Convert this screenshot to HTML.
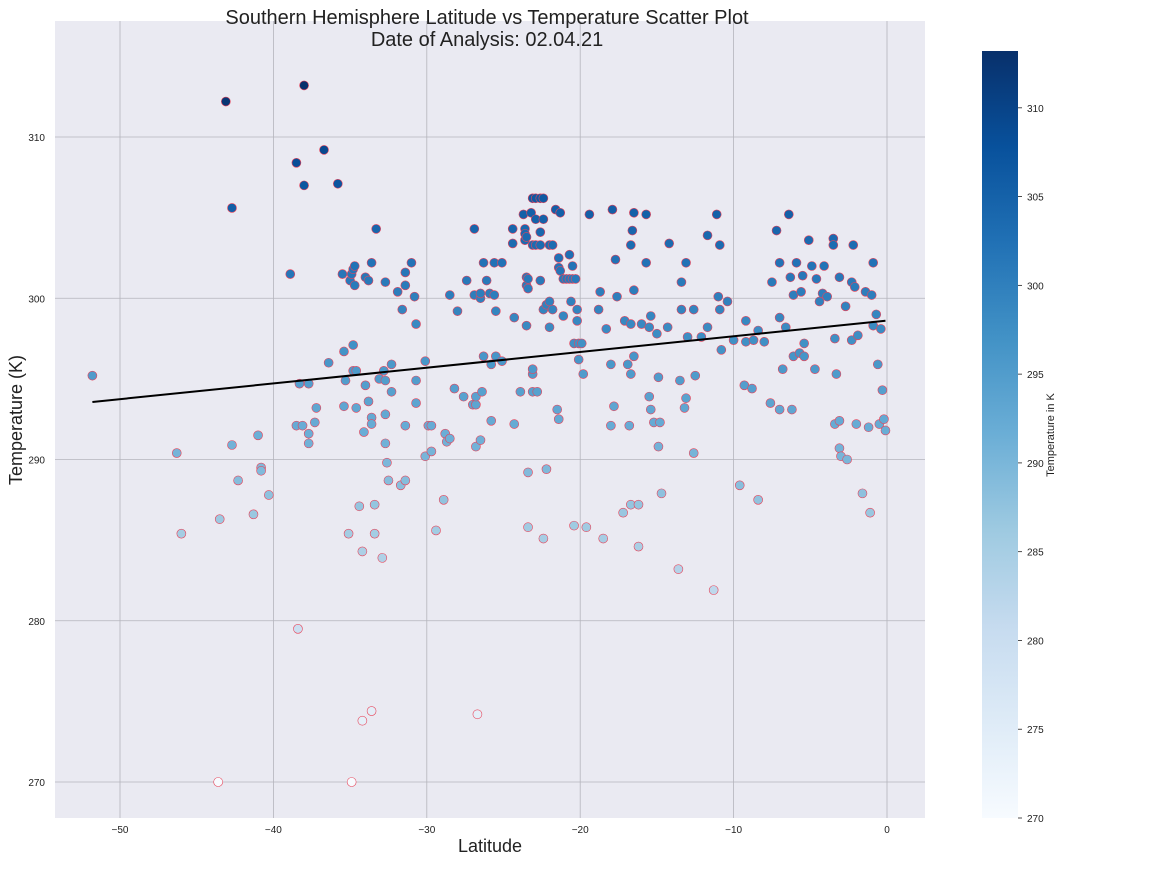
<!DOCTYPE html>
<html><head><meta charset="utf-8"><style>
body{margin:0;background:#fff;font-family:"Liberation Sans",Arial,sans-serif;}
svg text{font-family:"Liberation Sans",Arial,sans-serif;}
</style></head><body>
<svg id="chart" width="1152" height="864" xmlns="http://www.w3.org/2000/svg">
<rect x="55" y="21" width="870" height="797" fill="#eaeaf2"/>
<g id="grid"></g>
<g id="ticks"></g>
<g id="points"></g>
<g id="line"></g>
<text x="487" y="24" font-size="20" text-anchor="middle" fill="#222">Southern Hemisphere Latitude vs Temperature Scatter Plot</text>
<text x="487" y="46" font-size="20" text-anchor="middle" fill="#222">Date of Analysis: 02.04.21</text>
<text x="490" y="852" font-size="18" text-anchor="middle" fill="#222">Latitude</text>
<text x="0" y="0" font-size="18" text-anchor="middle" fill="#222" transform="translate(22,420) rotate(-90)">Temperature (K)</text>
<defs><linearGradient id="blues" x1="0" y1="1" x2="0" y2="0">
<stop offset="0" stop-color="#f7fbff"/><stop offset="0.125" stop-color="#deebf7"/><stop offset="0.25" stop-color="#c6dbef"/><stop offset="0.375" stop-color="#9ecae1"/><stop offset="0.5" stop-color="#6baed6"/><stop offset="0.625" stop-color="#4292c6"/><stop offset="0.75" stop-color="#2171b5"/><stop offset="0.875" stop-color="#08519c"/><stop offset="1" stop-color="#08306b"/></linearGradient></defs>
<rect x="982" y="51" width="36" height="767" fill="url(#blues)"/>
<g id="cbticks"></g>
<text x="0" y="0" font-size="11" text-anchor="middle" fill="#222" transform="translate(1054,435) rotate(-90)">Temperature in K</text>
</svg>
<script>
const lats=[-51.8,-46.3,-46,-43.6,-43.5,-43.1,-42.7,-42.7,-42.3,-41.3,-41,-40.8,-40.8,-40.3,-38.9,-38.5,-38.4,-38.5,-38.1,-38.3,-38,-38,-37.7,-37.7,-37.7,-37.3,-37.2,-36.7,-36.4,-35.8,-35.5,-35.4,-35.4,-35.3,-35.1,-34.9,-35,-34.9,-34.8,-34.7,-34.7,-34.8,-34.8,-34.6,-34.6,-34.4,-34.2,-34.2,-34.1,-34,-34,-33.8,-33.8,-33.6,-33.6,-33.6,-33.6,-33.4,-33.4,-33.3,-33.1,-32.9,-32.8,-32.7,-32.7,-32.7,-32.7,-32.6,-32.5,-32.3,-32.3,-31.9,-31.7,-31.6,-31.4,-31.4,-31.4,-31.4,-31,-30.8,-30.7,-30.7,-30.7,-30.1,-30.1,-29.9,-29.7,-29.7,-29.4,-28.9,-28.8,-28.7,-28.5,-28.5,-28.2,-28,-27.6,-27.4,-27,-26.9,-26.9,-26.8,-26.8,-26.8,-26.7,-26.5,-26.5,-26.5,-26.4,-26.3,-26.3,-26.1,-25.9,-25.8,-25.8,-25.6,-25.6,-25.5,-25.5,-25.1,-25.1,-24.4,-24.4,-24.3,-24.3,-23.9,-23.7,-23.6,-23.6,-23.6,-23.5,-23.5,-23.5,-23.5,-23.4,-23.4,-23.4,-23.4,-23.2,-23.1,-23.1,-23.1,-23.1,-23.1,-22.9,-22.9,-22.9,-22.8,-22.6,-22.6,-22.6,-22.6,-22.4,-22.4,-22.4,-22.4,-22.2,-22.2,-22,-22,-22,-21.8,-21.8,-21.6,-21.5,-21.4,-21.4,-21.4,-21.3,-21.3,-21.1,-21.1,-20.9,-20.7,-20.7,-20.6,-20.5,-20.5,-20.4,-20.4,-20.3,-20.2,-20.2,-20.1,-20.1,-19.9,-19.8,-19.6,-19.4,-18.8,-18.7,-18.5,-18.3,-18,-18,-17.9,-17.8,-17.7,-17.6,-17.2,-17.1,-16.9,-16.8,-16.7,-16.7,-16.7,-16.7,-16.6,-16.5,-16.5,-16.5,-16.2,-16.2,-16,-15.7,-15.7,-15.5,-15.5,-15.4,-15.4,-15.2,-15,-14.9,-14.9,-14.8,-14.7,-14.3,-14.2,-13.6,-13.4,-13.5,-13.4,-13.2,-13.1,-13.1,-13,-12.6,-12.6,-12.5,-12.1,-11.7,-11.7,-11.3,-11.1,-11,-10.9,-10.9,-10.8,-10.4,-10,-9.6,-9.3,-9.2,-9.2,-8.8,-8.7,-8.4,-8.4,-8,-7.6,-7.5,-7.2,-7,-7,-7,-6.8,-6.6,-6.4,-6.3,-6.2,-6.1,-6.1,-5.9,-5.7,-5.6,-5.5,-5.4,-5.4,-5.1,-4.9,-4.7,-4.6,-4.4,-4.2,-4.1,-3.9,-3.5,-3.5,-3.4,-3.4,-3.3,-3.1,-3.1,-3.1,-3,-2.7,-2.6,-2.3,-2.3,-2.2,-2.1,-2,-1.9,-1.6,-1.4,-1.2,-1.1,-1,-0.9,-0.9,-0.7,-0.6,-0.5,-0.4,-0.3,-0.2,-0.1];
const temps=[295.2,290.4,285.4,270,286.3,312.2,305.6,290.9,288.7,286.6,291.5,289.5,289.3,287.8,301.5,308.4,279.5,292.1,292.1,294.7,313.2,307,294.7,291.6,291,292.3,293.2,309.2,296,307.1,301.5,296.7,293.3,294.9,285.4,270,301.1,301.5,301.8,302,300.8,297.1,295.5,295.5,293.2,287.1,273.8,284.3,291.7,294.6,301.3,301.1,293.6,274.4,302.2,292.6,292.2,287.2,285.4,304.3,295,283.9,295.5,294.9,301,292.8,291,289.8,288.7,295.9,294.2,300.4,288.4,299.3,301.6,300.8,292.1,288.7,302.2,300.1,298.4,294.9,293.5,290.2,296.1,292.1,292.1,290.5,285.6,287.5,291.6,291.1,300.2,291.3,294.4,299.2,293.9,301.1,293.4,304.3,300.2,293.4,290.8,293.9,274.2,300,300.3,291.2,294.2,296.4,302.2,301.1,300.3,295.9,292.4,302.2,300.2,299.2,296.4,302.2,296.1,303.4,304.3,298.8,292.2,294.2,305.2,304.3,303.6,304,301.3,303.8,298.3,300.8,300.6,301.2,289.2,285.8,305.3,306.2,295.3,295.6,294.2,303.3,304.9,303.3,306.2,294.2,303.3,306.2,304.1,301.1,304.9,285.1,306.2,299.3,299.6,289.4,303.3,299.8,298.2,303.3,299.3,305.5,293.1,292.5,302.5,301.9,305.3,301.7,298.9,301.2,301.2,302.7,301.2,299.8,302,301.2,297.2,285.9,301.2,298.6,299.3,297.2,296.2,297.2,295.3,285.8,305.2,299.3,300.4,285.1,298.1,295.9,292.1,305.5,293.3,302.4,300.1,286.7,298.6,295.9,292.1,295.3,298.4,287.2,303.3,304.2,305.3,300.5,296.4,287.2,284.6,298.4,302.2,305.2,298.2,293.9,298.9,293.1,292.3,297.8,290.8,295.1,292.3,287.9,298.2,303.4,283.2,299.3,294.9,301,293.2,293.8,302.2,297.6,299.3,290.4,295.2,297.6,303.9,298.2,281.9,305.2,300.1,303.3,299.3,296.8,299.8,297.4,288.4,294.6,298.6,297.3,294.4,297.4,287.5,298,297.3,293.5,301,304.2,302.2,298.8,293.1,295.6,298.2,305.2,301.3,293.1,300.2,296.4,302.2,296.6,300.4,301.4,297.2,296.4,303.6,302,295.6,301.2,299.8,300.3,302,300.1,303.7,303.3,297.5,292.2,295.3,301.3,292.4,290.7,290.2,299.5,290,301,297.4,303.3,300.7,292.2,297.7,287.9,300.4,292,286.7,300.2,302.2,298.3,299,295.9,292.2,298.1,294.3,292.5,291.8];
const xTicks=[-50,-40,-30,-20,-10,0];
const yTicks=[270,280,290,300,310];
const cbTicks=[270,275,280,285,290,295,300,305,310];

const NS='http://www.w3.org/2000/svg';
const X0=55,X1=925,Y0=21,Y1=818;
const xs=v=>887+v*15.34;
const ys=v=>782-(v-270)*16.125;
function mk(parent,tag,attrs){const e=document.createElementNS(NS,tag);for(const k in attrs)e.setAttribute(k,attrs[k]);document.getElementById(parent).appendChild(e);return e;}
xTicks.forEach(t=>{
  const l=mk('grid','line',{x1:xs(t),x2:xs(t),y1:Y0,y2:Y1,stroke:'#b4b4bc','stroke-width':0.8});
  
  
  const tx=mk('ticks','text',{x:xs(t),y:Y1+15,'font-size':10,'text-anchor':'middle',fill:'#222'});
  tx.textContent=t===0?'0':'\u2212'+Math.abs(t);
  
  
});
yTicks.forEach(t=>{
  const l=mk('grid','line',{x1:X0,x2:X1,y1:ys(t),y2:ys(t),stroke:'#b4b4bc','stroke-width':0.8});
  
  
  const tx=mk('ticks','text',{x:X0-10,y:ys(t)+4,'font-size':10,'text-anchor':'end',fill:'#222'});
  tx.textContent=t;
  
  
});
const stops=['#f7fbff','#deebf7','#c6dbef','#9ecae1','#6baed6','#4292c6','#2171b5','#08519c','#08306b'];
function hex(h){return [1,3,5].map(i=>parseInt(h.substr(i,2),16));}
const vmin=Math.min(...temps),vmax=Math.max(...temps);
function cmap(v){let f=(v-vmin)/(vmax-vmin);f=Math.max(0,Math.min(1,f))*8;const i=Math.min(7,Math.floor(f)),r=f-i;const a=hex(stops[i]),b=hex(stops[i+1]);return 'rgb('+a.map((c,k)=>Math.round(c+(b[k]-c)*r)).join(',')+')';}
lats.forEach((la,i)=>{
  const c=mk('points','circle',{cx:xs(la),cy:ys(temps[i]),r:4.5,fill:cmap(temps[i]),stroke:'#e8455a','stroke-width':0.6});
  
  
});
// linear regression
const n=lats.length,mx=lats.reduce((a,b)=>a+b)/n,my=temps.reduce((a,b)=>a+b)/n;
let sxy=0,sxx=0;lats.forEach((x,i)=>{sxy+=(x-mx)*(temps[i]-my);sxx+=(x-mx)*(x-mx);});
const slope=sxy/sxx,icpt=my-slope*mx;
const xa=Math.min(...lats),xb=Math.max(...lats);
const ln=mk('line','line',{x1:xs(xa),y1:ys(icpt+slope*xa),x2:xs(xb),y2:ys(icpt+slope*xb),stroke:'#000','stroke-width':2});


// colorbar ticks
const cbY=v=>818-(v-vmin)/(vmax-vmin)*767;
cbTicks.forEach(t=>{
  const l=mk('cbticks','line',{x1:1018,x2:1022,y1:cbY(t),y2:cbY(t),stroke:'#222','stroke-width':0.8});
  
  
  const tx=mk('cbticks','text',{x:1027,y:cbY(t)+4,'font-size':10,fill:'#222'});
  tx.textContent=t;
  
  
});
</script>
</body></html>
